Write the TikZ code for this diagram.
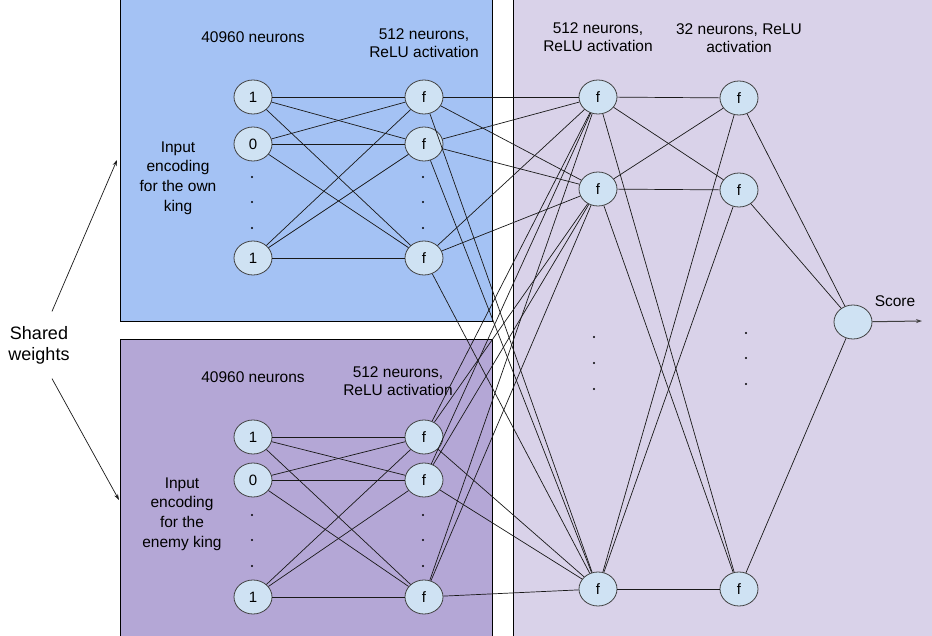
\documentclass[tikz,border=0pt]{standalone}
\usepackage{fontspec}
\setmainfont{Liberation Sans}
\usetikzlibrary{arrows.meta,calc,shapes.geometric}

\definecolor{ownblue}{HTML}{A4C2F4}
\definecolor{enemyviolet}{HTML}{B4A7D6}
\definecolor{paleviolet}{HTML}{D9D2E9}
\definecolor{neuronfill}{HTML}{CFE2F3}

\begin{document}
\begin{tikzpicture}[x=1pt,y=-1pt,line width=0.8pt,
	neuron/.style={ellipse,draw=black!75,fill=neuronfill,minimum width=38pt,minimum height=34pt,inner sep=0pt,font=\fontsize{15}{18}\selectfont},
	txt/.style={align=center,font=\fontsize{15.5}{18.5}\selectfont},
	enc/.style={align=center,font=\fontsize{15.5}{19.6}\selectfont},
	wire/.style={black!90,line width=0.7pt},
	tip/.style={-{Stealth[length=6pt,width=4pt]}}]
		
		\useasboundingbox (0,0) rectangle (932,636);
		
		% panels
		\fill[ownblue] (120,-2) rectangle (492,321);
		\fill[enemyviolet] (120,339) rectangle (492,640);
		\fill[paleviolet] (513,-2) rectangle (936,640);
		\draw (120,-2) -- (120,321) -- (492,321) -- (492,-2);
		\draw (120,640) -- (120,339) -- (492,339) -- (492,640);
		\draw (513,-2) -- (513,640);
		
		% texts
		\node[txt] (topin) at (253,37) {40960 neurons};
		\node[txt] (tophid) at (424,43) {512 neurons,\\ReLU activation};
		\node[enc] (topenc) at (178,178) {Input\\encoding\\for the own\\king};
		\node[txt] (botin) at (253,377) {40960 neurons};
		\node[txt] (bothid) at (398,381) {512 neurons,\\ReLU activation};
		\node[enc] (botenc) at (182,514) {Input\\encoding\\for the\\enemy king};
		\node[txt] (midhid) at (598,37) {512 neurons,\\ReLU activation};
		\node[txt] (lasthid) at (739,38) {32 neurons, ReLU\\activation};
		\node[txt,font=\fontsize{18}{21}\selectfont] (shared) at (39,345) {Shared\\weights};
		
		% neurons
		\node[neuron] (ia1) at (253,97) {1};
		\node[neuron] (ia2) at (253,144) {0};
		\node[neuron] (ia3) at (253,258) {1};
		\node[neuron] (fa1) at (424,97) {f};
		\node[neuron] (fa2) at (424,144) {f};
		\node[neuron] (fa3) at (424,258) {f};
		\node[neuron] (ib1) at (253,437) {1};
		\node[neuron] (ib2) at (253,480) {0};
		\node[neuron] (ib3) at (253,597) {1};
		\node[neuron] (fb1) at (424,437) {f};
		\node[neuron] (fb2) at (424,480) {f};
		\node[neuron] (fb3) at (424,597) {f};
		\node[neuron] (h1) at (598,97) {f};
		\node[neuron] (h2) at (598,189) {f};
		\node[neuron] (h3) at (598,589) {f};
		\node[neuron] (g1) at (739,98) {f};
		\node[neuron] (g2) at (739,190) {f};
		\node[neuron] (g3) at (739,589) {f};
		\node[neuron] (score) at (853,322) {};
		\node[txt] (scoretxt) at (895,301) {Score};
		\coordinate (scoreout) at (922,321);
		
		% dots
		\foreach \y in {177,202,228} {\fill (252,\y) circle (1.1); \fill (423,\y) circle (1.1);}
		\foreach \y in {515,540,566} {\fill (252,\y) circle (1.1); \fill (423,\y) circle (1.1);}
		\foreach \y in {337,363,389} \fill (594,\y) circle (1.1);
		\foreach \y in {333,358,384} \fill (746,\y) circle (1.1);
		
		% connections
		\foreach \i in {1,2,3} \foreach \j in {1,2,3} {
			\draw[wire] (ia\i) -- (fa\j);
			\draw[wire] (ib\i) -- (fb\j);
			\draw[wire] (fa\i) -- (h\j);
			\draw[wire] (fb\i) -- (h\j);
			\draw[wire] (h\i) -- (g\j);
		}
		\foreach \i in {1,2,3} \draw[wire] (g\i) -- (score);
		\draw[tip,black!75,line width=1pt] (score) -- (scoreout);
		
		% shared weights
		\coordinate (owntop) at (117,160);
		\coordinate (enemybot) at (119,500);
		\draw[tip,wire] ($(shared.north)+(13,-11)$) -- (owntop);
		\draw[tip,wire] ($(shared.south)+(13,11)$) -- (enemybot);
		
	\end{tikzpicture}
\end{document}
